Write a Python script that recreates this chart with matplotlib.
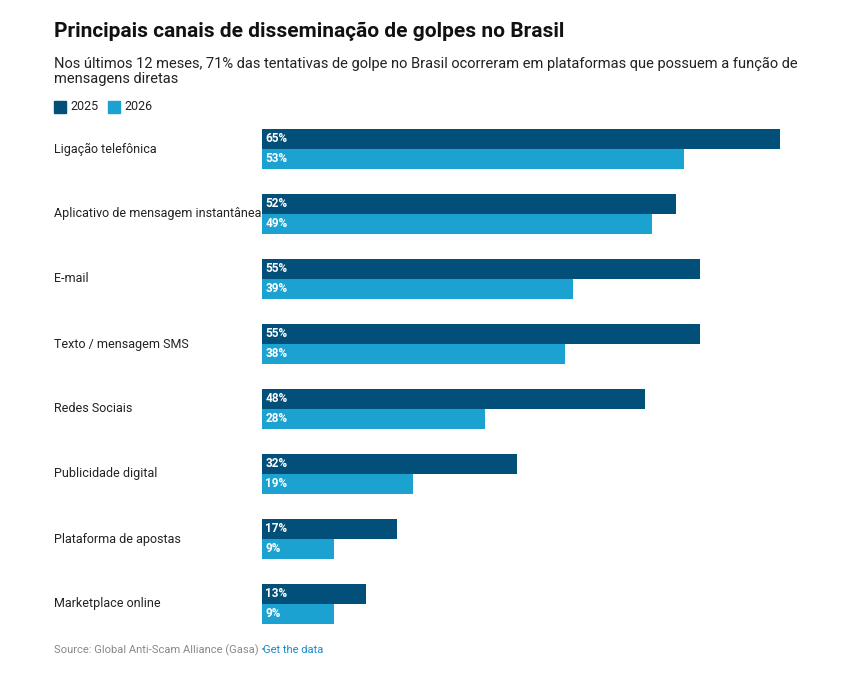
import matplotlib
matplotlib.use('Agg')
import matplotlib.pyplot as plt
import matplotlib.patches as mpatches

plt.rcParams['font.family'] = ['Roboto', 'DejaVu Sans']

CATEGORIES = ["Ligação telefônica", "Aplicativo de mensagem instantânea", "E-mail",
              "Texto / mensagem SMS", "Redes Sociais", "Publicidade digital",
              "Plataforma de apostas", "Marketplace online"]
V2025 = [65, 52, 55, 55, 48, 32, 17, 13]
V2026 = [53, 49, 39, 38, 28, 19, 9, 9]
C2025 = '#02507a'
C2026 = '#1ba2d0'

W, H = 852, 678
fig = plt.figure(figsize=(W / 100, H / 100), dpi=100)

def fx(px): return px / W
def fy(py): return 1 - py / H

h = 20 / 65
ax = fig.add_axes([fx(262), fy(624), fx(780) - fx(262), fy(129) - fy(624)])
n = len(CATEGORIES)
ys = list(range(n))
ax.barh([y - h / 2 for y in ys], V2025, height=h, color=C2025)
ax.barh([y + h / 2 for y in ys], V2026, height=h, color=C2026)
ax.set_xlim(0, 65)
ax.set_ylim(n - 1 + h, -h)
ax.axis('off')
for y, a, b in zip(ys, V2025, V2026):
    ax.text(0.4, y - h / 2, f"{a}%", color='white', fontweight='bold', fontsize=8.5, va='center')
    ax.text(0.4, y + h / 2, f"{b}%", color='white', fontweight='bold', fontsize=8.5, va='center')
    fig.text(fx(54), fy(149 + 65 * y), CATEGORIES[y], fontsize=9, color='#222222', va='center')

fig.text(fx(54), fy(31), "Principais canais de disseminação de golpes no Brasil",
         fontsize=15, fontweight='bold', color='#111111', va='center')
fig.text(fx(54), fy(71), "Nos últimos 12 meses, 71% das tentativas de golpe no Brasil ocorreram em plataformas que possuem a função de\nmensagens diretas",
         fontsize=10.5, color='#222222', va='center', linespacing=1.1)

for x, c, lab in [(54, C2025, "2025"), (108, C2026, "2026")]:
    fig.patches.append(mpatches.Rectangle((fx(x), fy(113)), fx(12), 12 / H, color=c,
                                          transform=fig.transFigure))
    fig.text(fx(x + 16), fy(107), lab, fontsize=9, color='#222222', va='center')

t = fig.text(fx(54), fy(650), "Source: Global Anti-Scam Alliance (Gasa) • ", fontsize=8, color='#888888', va='center')
fig.text(fx(263), fy(650), "Get the data", fontsize=8, color='#1a8ccc', va='center')

fig.savefig('out.png', dpi=100, facecolor='white')
